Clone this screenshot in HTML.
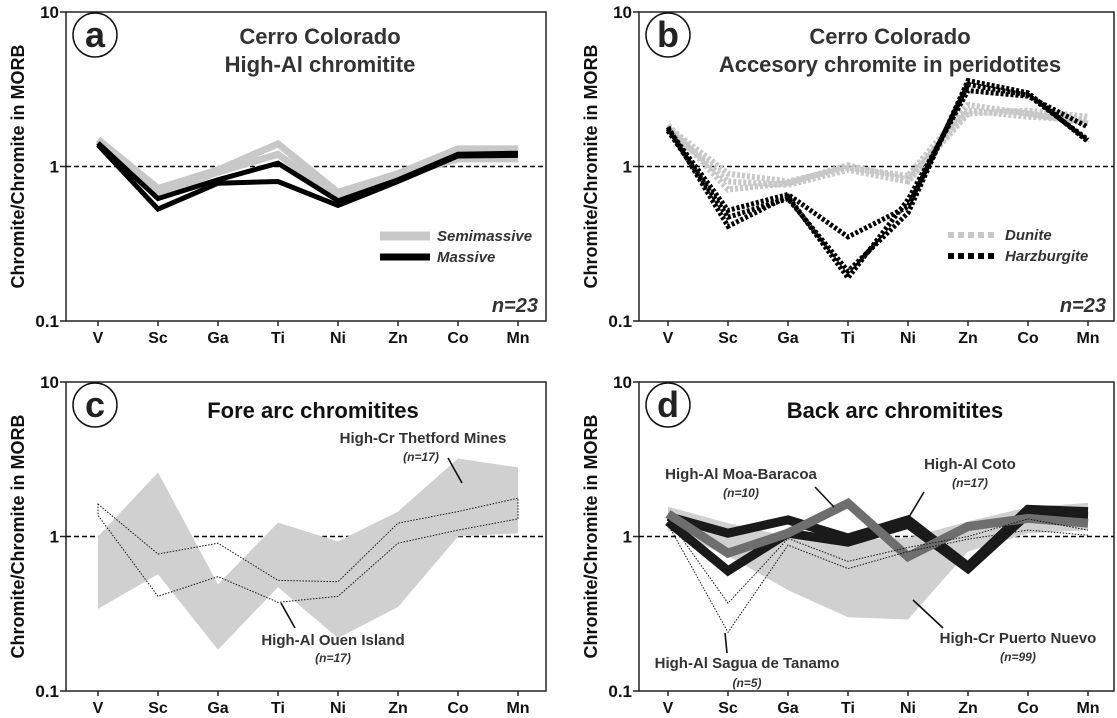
<!DOCTYPE html>
<html><head><meta charset="utf-8"><style>
html,body{margin:0;padding:0;background:#fff;}
svg{display:block;font-family:"Liberation Sans",Arial,sans-serif;}
</style></head><body>
<svg id="fig" width="1117" height="718" viewBox="0 0 1117 718" xmlns="http://www.w3.org/2000/svg"></svg>
<script>
const categories = ["V","Sc","Ga","Ti","Ni","Zn","Co","Mn"];
const yTicks = [10,1,0.1];
const yTickLabels = ["10","1","0.1"];
// Panel a
const semiUpper = [1.5,0.72,0.95,1.4,0.68,0.9,1.3,1.3];
const semiLower = [1.45,0.66,0.92,1.2,0.63,0.87,1.12,1.12];
const massUpper = [1.42,0.62,0.82,1.05,0.6,0.82,1.2,1.22];
const massLower = [1.38,0.53,0.78,0.8,0.56,0.8,1.17,1.18];
// Panel b
const dunite1 = [1.85,0.71,0.78,1.02,0.82,2.3,2.1,2.0];
const dunite2 = [1.8,0.9,0.8,0.98,0.87,2.5,2.2,1.9];
const dunite3 = [1.75,0.8,0.76,0.95,0.8,2.2,2.3,2.1];
const harz1 = [1.8,0.41,0.64,0.19,0.61,3.1,2.85,1.8];
const harz2 = [1.75,0.52,0.66,0.35,0.55,3.4,2.9,1.49];
const harz3 = [1.7,0.47,0.62,0.21,0.5,3.6,3.0,1.45];
// Panel c
const thetfordUpper = [1.0,2.6,0.49,1.23,0.93,1.45,3.2,2.8];
const thetfordLower = [0.34,0.57,0.185,0.47,0.22,0.35,1.0,1.05];
const ouenUpper = [1.62,0.77,0.905,0.52,0.51,1.22,1.45,1.77];
const ouenLower = [1.37,0.41,0.55,0.375,0.41,0.905,1.1,1.3];
// Panel d
const puertoUpper = [1.56,1.22,1.0,0.95,0.98,1.25,1.55,1.65];
const puertoLower = [1.1,0.75,0.45,0.3,0.29,0.8,1.05,1.1];
const cotoUpper = [1.35,1.05,1.28,0.98,1.28,0.64,1.5,1.45];
const cotoLower = [1.25,0.6,1.05,0.92,1.2,0.62,1.4,1.35];
const moaBaracoa = [1.4,0.78,1.05,1.64,0.74,1.16,1.31,1.22];
const sagua1 = [1.3,0.37,0.97,0.69,0.85,1.0,1.3,1.1];
const sagua2 = [1.2,0.24,0.88,0.62,0.8,0.96,1.1,1.02];

const NS="http://www.w3.org/2000/svg";
const svg=document.getElementById('fig');
function el(tag,attrs,parent){const e=document.createElementNS(NS,tag);for(const k in attrs)e.setAttribute(k,attrs[k]);(parent||svg).appendChild(e);return e;}
function txt(s,attrs,parent){const t=el('text',attrs,parent);t.textContent=s;return t;}

const panels={
 a:{axL:66,axR:546,top:12,bot:321,x0:98},
 b:{axL:639,axR:1114,top:12,bot:321,x0:668},
 c:{axL:66,axR:546,top:382,bot:691,x0:98},
 d:{axL:639,axR:1114,top:382,bot:691,x0:668}
};
const STEP=60;
function xs(p,i){return p.x0+i*STEP;}
function ys(p,v){return p.bot-(Math.log10(v)+1)*(p.bot-p.top)/2;}
function pts(p,arr){return arr.map((v,i)=>xs(p,i).toFixed(1)+','+ys(p,v).toFixed(1)).join(' ');}
function band(p,up,lo){return up.map((v,i)=>xs(p,i)+','+ys(p,v)).concat(lo.map((v,i)=>[i,v]).reverse().map(([i,v])=>xs(p,i)+','+ys(p,v))).join(' ');}

function drawAxes(key,p){
 const g=el('g',{});
 
 
 el('rect',{x:p.axL,y:p.top,width:p.axR-p.axL,height:p.bot-p.top,fill:'none',stroke:'#222','stroke-width':1.5},g);
 el('line',{x1:p.axL,y1:ys(p,1),x2:p.axR,y2:ys(p,1),stroke:'#000','stroke-width':1.6,'stroke-dasharray':'5,3'},g);
 yTicks.forEach((t,i)=>{
  const y=ys(p,t);
  el('line',{x1:p.axL-6,y1:y,x2:p.axL,y2:y,stroke:'#222','stroke-width':1.5},g);
  const l=txt(yTickLabels[i],{x:p.axL-7,y:y+6,'text-anchor':'end','font-size':17,'font-weight':'bold',fill:'#111'},g);
  
  
 });
 categories.forEach((c,i)=>{
  const x=xs(p,i);
  el('line',{x1:x,y1:p.bot,x2:x,y2:p.bot+5,stroke:'#222','stroke-width':1.5},g);
  const l=txt(c,{x:x,y:p.bot+22,'text-anchor':'middle','font-size':16,'font-weight':'bold',fill:'#111'},g);
  
  
 });
 const cy=(p.top+p.bot)/2;
 const t=txt('Chromite/Chromite in MORB',{x:0,y:0,transform:`translate(${p.axL-42},${cy}) rotate(-90)`,'text-anchor':'middle','font-size':18,'font-weight':'bold',fill:'#111'},g);
 
 
 const cx=p.axL+29, ccy=p.top+23;
 el('circle',{cx:cx,cy:ccy,r:22,fill:'#fff',stroke:'#111','stroke-width':1.5},g);
 const lt=txt(key,{x:cx,y:ccy+12,'text-anchor':'middle','font-size':36,'font-weight':'bold',fill:'#222'},g);
 
 
}
Object.keys(panels).forEach(k=>drawAxes(k,panels[k]));

function line(p,arr,attrs,name){const e=el('polyline',Object.assign({points:pts(p,arr),fill:'none','stroke-linejoin':'miter'},attrs));
 
 
 return e;}
function poly(p,up,lo,attrs,name){const e=el('polygon',Object.assign({points:band(p,up,lo)},attrs));
 
 
 return e;}
function label(s,x,y,attrs,name){const t=txt(s,Object.assign({x:x,y:y,'text-anchor':'middle'},attrs));
 
 
 return t;}
function leader(x1,y1,x2,y2,name){const e=el('line',{x1,y1,x2,y2,stroke:'#111','stroke-width':1.6});
 
 }

// Panel a
const A=panels.a;
line(A,semiUpper,{stroke:'#c8c8c8','stroke-width':7},'semimassive-line-upper');
line(A,semiLower,{stroke:'#c8c8c8','stroke-width':7},'semimassive-line-lower');
line(A,massUpper,{stroke:'#000','stroke-width':5},'massive-line-upper');
line(A,massLower,{stroke:'#000','stroke-width':5},'massive-line-lower');
label('Cerro Colorado',320,44,{'font-size':22,'font-weight':'bold',fill:'#333'},'panel-a-title-line1');
label('High-Al chromitite',320,72,{'font-size':22,'font-weight':'bold',fill:'#333'},'panel-a-title-line2');
let e=el('line',{x1:380,y1:236,x2:430,y2:236,stroke:'#c8c8c8','stroke-width':9});


e=el('line',{x1:380,y1:257,x2:430,y2:257,stroke:'#000','stroke-width':7});


label('Semimassive',437,241,{'text-anchor':'start','font-size':15,'font-style':'italic','font-weight':'bold',fill:'#333'},'legend-semimassive-label');
label('Massive',437,262,{'text-anchor':'start','font-size':15,'font-style':'italic','font-weight':'bold',fill:'#333'},'legend-massive-label');
label('n=23',538,312,{'text-anchor':'end','font-size':20,'font-style':'italic','font-weight':'bold',fill:'#333'},'panel-a-n-label');

// Panel b
const B=panels.b;
[dunite1,dunite2,dunite3].forEach((d,i)=>line(B,d,{stroke:'#c8c8c8','stroke-width':6,'stroke-dasharray':'3,2'},'dunite-line-'+(i+1)));
[harz1,harz2,harz3].forEach((d,i)=>line(B,d,{stroke:'#000','stroke-width':5,'stroke-dasharray':'3,2'},'harzburgite-line-'+(i+1)));
label('Cerro Colorado',890,44,{'font-size':22,'font-weight':'bold',fill:'#333'},'panel-b-title-line1');
label('Accesory chromite in peridotites',890,72,{'font-size':22,'font-weight':'bold',fill:'#333'},'panel-b-title-line2');
e=el('line',{x1:948,y1:235,x2:998,y2:235,stroke:'#c8c8c8','stroke-width':6,'stroke-dasharray':'6,4'});


e=el('line',{x1:948,y1:256,x2:998,y2:256,stroke:'#000','stroke-width':6,'stroke-dasharray':'6,4'});


label('Dunite',1005,240,{'text-anchor':'start','font-size':15,'font-style':'italic','font-weight':'bold',fill:'#333'},'legend-dunite-label');
label('Harzburgite',1005,261,{'text-anchor':'start','font-size':15,'font-style':'italic','font-weight':'bold',fill:'#333'},'legend-harzburgite-label');
label('n=23',1106,312,{'text-anchor':'end','font-size':20,'font-style':'italic','font-weight':'bold',fill:'#333'},'panel-b-n-label');

// Panel c
const C=panels.c;
poly(C,thetfordUpper,thetfordLower,{fill:'#d0d0d0',stroke:'none'},'thetford-mines-field');
poly(C,ouenUpper,ouenLower,{fill:'none',stroke:'#111','stroke-width':1,'stroke-dasharray':'1.5,1.5'},'ouen-island-field');
label('Fore arc chromitites',313,418,{'font-size':22,'font-weight':'bold',fill:'#111'},'panel-c-title');
label('High-Cr Thetford Mines',423,443,{'font-size':15,'font-weight':'bold',fill:'#333'},'thetford-label');
label('(n=17)',421,461,{'font-size':12,'font-style':'italic','font-weight':'bold',fill:'#333'},'thetford-n-label');
leader(448,458,462,483,'thetford-leader');
label('High-Al Ouen Island',333,645,{'font-size':15,'font-weight':'bold',fill:'#333'},'ouen-label');
label('(n=17)',333,662,{'font-size':12,'font-style':'italic','font-weight':'bold',fill:'#333'},'ouen-n-label');
leader(281,603,295,628,'ouen-leader');

// Panel d
const D=panels.d;
poly(D,puertoUpper,puertoLower,{fill:'#d0d0d0',stroke:'none'},'puerto-nuevo-field');
line(D,cotoUpper,{stroke:'#1a1a1a','stroke-width':9},'coto-line-upper');
line(D,cotoLower,{stroke:'#1a1a1a','stroke-width':9},'coto-line-lower');
line(D,moaBaracoa,{stroke:'#6e6e6e','stroke-width':9},'moa-baracoa-line');
line(D,sagua1,{stroke:'#111','stroke-width':1,'stroke-dasharray':'1.5,1.5'},'sagua-line-1');
line(D,sagua2,{stroke:'#111','stroke-width':1,'stroke-dasharray':'1.5,1.5'},'sagua-line-2');
label('Back arc chromitites',895,418,{'font-size':22,'font-weight':'bold',fill:'#111'},'panel-d-title');
label('High-Al Moa-Baracoa',741,479,{'font-size':15,'font-weight':'bold',fill:'#333'},'moa-baracoa-label');
label('(n=10)',741,497,{'font-size':12,'font-style':'italic','font-weight':'bold',fill:'#333'},'moa-baracoa-n-label');
leader(815,487,834,507,'moa-baracoa-leader');
label('High-Al Coto',970,469,{'font-size':15,'font-weight':'bold',fill:'#333'},'coto-label');
label('(n=17)',970,487,{'font-size':12,'font-style':'italic','font-weight':'bold',fill:'#333'},'coto-n-label');
leader(924,492,909,517,'coto-leader');
label('High-Cr Puerto Nuevo',1018,643,{'font-size':15,'font-weight':'bold',fill:'#333'},'puerto-nuevo-label');
label('(n=99)',1018,661,{'font-size':12,'font-style':'italic','font-weight':'bold',fill:'#333'},'puerto-nuevo-n-label');
leader(913,600,943,628,'puerto-nuevo-leader');
label('High-Al Sagua de Tanamo',747,668,{'font-size':15,'font-weight':'bold',fill:'#333'},'sagua-label');
label('(n=5)',747,687,{'font-size':12,'font-style':'italic','font-weight':'bold',fill:'#333'},'sagua-n-label');
leader(725,633,727,653,'sagua-leader');
</script>
</body></html>
